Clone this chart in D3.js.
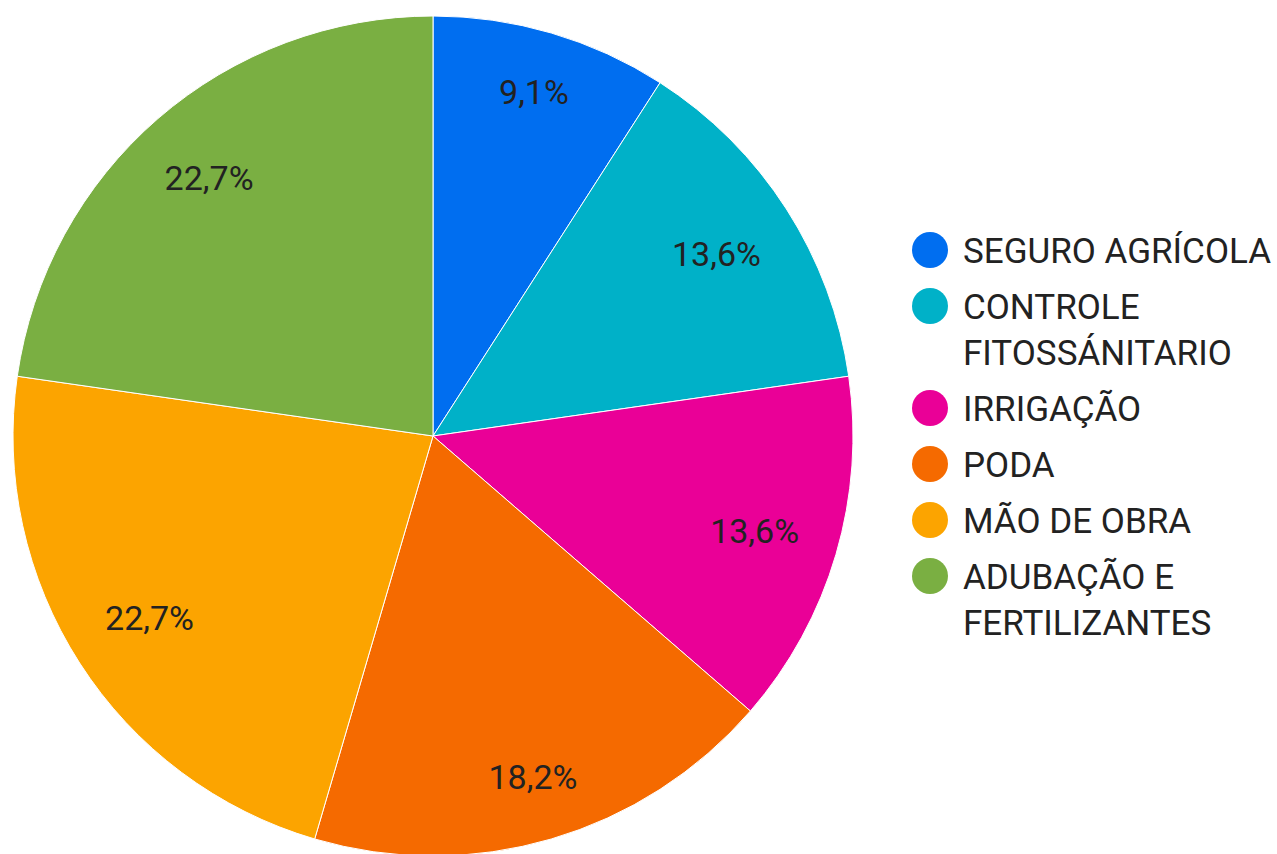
<!DOCTYPE html>
<html><head><meta charset="utf-8">
<script src="https://cdn.jsdelivr.net/npm/d3@7"></script>
<style>body{margin:0;background:#fff}svg{display:block}</style>
</head><body>
<svg id="c" width="1277" height="854"></svg>
<script>
const categories = ["SEGURO AGRÍCOLA","CONTROLE FITOSSÁNITARIO","IRRIGAÇÃO","PODA","MÃO DE OBRA","ADUBAÇÃO E FERTILIZANTES"];
const values = [2,3,3,4,5,5];
const percentLabels = ["9,1%","13,6%","13,6%","18,2%","22,7%","22,7%"];
const colors = ["#006ef0","#00b1c8","#ea0097","#f56a00","#fca400","#7aaf42"];

const svg = d3.select("#c");
const cx = 433, cy = 436, r = 420;
const font = "Roboto, 'Noto Sans', sans-serif";
const pie = d3.pie().sort(null).value(d => d)(values);
const arc = d3.arc().innerRadius(0).outerRadius(r);
const g = svg.append("g").attr("transform", `translate(${cx},${cy})`);
g.selectAll("path").data(pie).join("path")
  .attr("d", arc).attr("fill", (d,i) => colors[i])
  .attr("stroke", "#fff").attr("stroke-width", 1);

// labels: box placed so its outermost corner sits on a fixed radius
const cornerR = r * 0.908, boxH = 25;
g.selectAll("text").data(pie).join("text")
  .attr("text-anchor", "middle").attr("dy", "0.36em")
  .style("font-family", font).style("font-size", "34px").attr("fill", "#222")
  .text((d,i) => percentLabels[i])
  .each(function(d) {
    const w = this.getComputedTextLength();
    const a = (d.startAngle + d.endAngle) / 2;
    const s = Math.sin(a), c = Math.cos(a);
    const B = Math.abs(s) * w / 2 + Math.abs(c) * boxH / 2;
    const C = w * w / 4 + boxH * boxH / 4 - cornerR * cornerR;
    const dist = -B + Math.sqrt(B * B - C);
    d3.select(this).attr("transform", `translate(${dist * s},${-dist * c})`);
  });

const color = d3.scaleOrdinal().domain(categories).range(colors);
const leg = svg.append("g");
let y = 250;
const lineH = 46, itemGap = 56, maxW = 315;
categories.forEach((c) => {
  leg.append("circle").attr("cx", 930).attr("cy", y).attr("r", 18).attr("fill", color(c));
  const t = leg.append("text").attr("x", 963).attr("y", y)
    .style("font-family", font).style("font-size", "35px").attr("fill", "#222");
  const words = c.split(" ");
  let line = [], lines = 0;
  let ts = t.append("tspan").attr("x", 963).attr("dy", "0.36em");
  words.forEach(w => {
    line.push(w);
    ts.text(line.join(" "));
    if (ts.node().getComputedTextLength() > maxW && line.length > 1) {
      line.pop(); ts.text(line.join(" "));
      line = [w]; lines++;
      ts = t.append("tspan").attr("x", 963).attr("dy", lineH + "px").text(w);
    }
  });
  y += itemGap + lines * lineH;
});
</script>
</body></html>
